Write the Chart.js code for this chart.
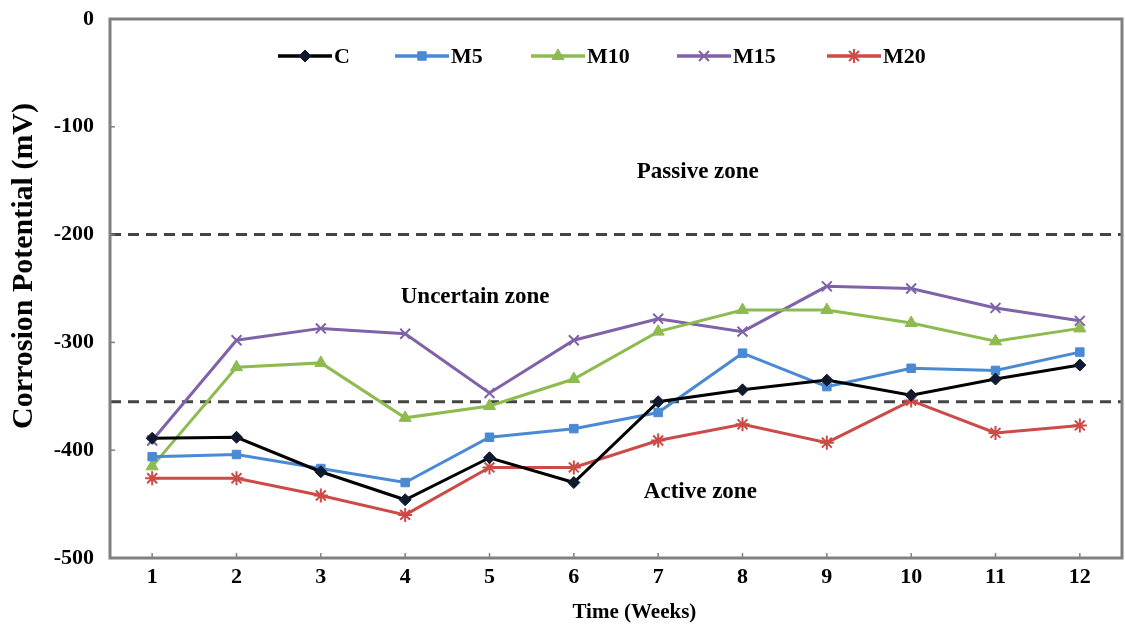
<!DOCTYPE html>
<html>
<head>
<meta charset="utf-8">
<script src="https://cdn.jsdelivr.net/npm/chart.js@4/dist/chart.umd.min.js"></script>
<style>
  html, body { margin: 0; padding: 0; background: #fff; overflow: hidden; }
  #wrap { width: 1125px; height: 632px; }
  canvas { display: block; }
</style>
</head>
<body>
<div id="wrap"><canvas id="potChart" width="1125" height="632"></canvas></div>
<script>
// weeks on x, corrosion potential (mV) per mix
const weeks = ['1', '2', '3', '4', '5', '6', '7', '8', '9', '10', '11', '12'];
const seriesNames = ['C', 'M5', 'M10', 'M15', 'M20'];
const valC   = [-389, -388, -420, -446, -407, -430, -355, -344, -335, -349, -334, -321];
const valM5  = [-406, -404, -417, -430, -388, -380, -365, -310, -341, -324, -326, -309];
const valM10 = [-415, -323, -319, -370, -359, -334, -290, -270, -270, -282, -299, -287];
const valM15 = [-391, -298, -287, -292, -347, -298, -278, -290, -248, -250, -268, -280];
const valM20 = [-426, -426, -442, -460, -416, -416, -391, -376, -393, -354, -384, -377];
const yTicks = [0, -100, -200, -300, -400, -500];

// zone limits and their labels
const zoneLimits = [-200, -355];
const zoneNames = ['Passive zone', 'Uncertain zone', 'Active zone'];
const zoneAt = [[6.47, -142], [3.83, -258], [6.5, -439]];

const lineColors = ['#000000', '#4a89d4', '#8dbb50', '#7f62a8', '#cc4a47'];
const markColors = ['#0f1a2e', '#4a89d4', '#8dbb50', '#7f62a8', '#cc4a47'];
const markStyles = ['rectRot', 'rect', 'triangle', 'crossRot', 'star'];
const markSizes = [6, 6, 7, 7, 7];

const serif = "'Liberation Serif', 'Times New Roman', serif";

const allVals = [valC, valM5, valM10, valM15, valM20];
const datasets = allVals.map((v, i) => ({
  label: seriesNames[i],
  data: v,
  borderColor: lineColors[i],
  backgroundColor: markColors[i],
  pointBackgroundColor: markColors[i],
  pointBorderColor: markColors[i],
  pointStyle: markStyles[i],
  pointRadius: markSizes[i],
  pointBorderWidth: (markStyles[i] == 'crossRot' || markStyles[i] == 'star') ? 2 : 1,
  borderWidth: 3,
  tension: 0,
  fill: false
}));

// frame, inward ticks, dashed limits and zone text
const zonePlugin = {
  id: 'zones',
  beforeDatasetsDraw(chart) {
    const ctx = chart.ctx, a = chart.chartArea, ys = chart.scales.y, xs = chart.scales.x;
    ctx.save();
    ctx.strokeStyle = '#444';
    ctx.lineWidth = 3;
    ctx.setLineDash([11, 7]);
    zoneLimits.forEach(v => {
      const py = ys.getPixelForValue(v);
      ctx.beginPath();
      ctx.moveTo(a.left, py);
      ctx.lineTo(a.right, py);
      ctx.stroke();
    });
    ctx.setLineDash([]);
    ctx.fillStyle = '#000';
    ctx.font = 'bold 23px ' + serif;
    ctx.textAlign = 'center';
    ctx.textBaseline = 'middle';
    zoneNames.forEach((t, i) => {
      ctx.fillText(t, xs.getPixelForValue(zoneAt[i][0]), ys.getPixelForValue(zoneAt[i][1]));
    });
    ctx.restore();
  },
  afterDraw(chart) {
    const ctx = chart.ctx, a = chart.chartArea, ys = chart.scales.y, xs = chart.scales.x;
    ctx.save();
    ctx.strokeStyle = '#808080';
    ctx.lineWidth = 1.5;
    xs.ticks.forEach((t, i) => {
      const px = xs.getPixelForTick(i);
      ctx.beginPath(); ctx.moveTo(px, a.bottom); ctx.lineTo(px, a.bottom - 5); ctx.stroke();
    });
    ys.ticks.forEach((t, i) => {
      const py = ys.getPixelForTick(i);
      ctx.beginPath(); ctx.moveTo(a.left, py); ctx.lineTo(a.left + 5, py); ctx.stroke();
    });
    ctx.lineWidth = 3;
    ctx.strokeRect(a.left, a.top, a.right - a.left, a.bottom - a.top);

    // legend: line with marker, then name
    const starts = [278, 395, 531, 677, 827];
    const ly = 56;
    ctx.font = 'bold 22px ' + serif;
    ctx.textAlign = 'left';
    ctx.textBaseline = 'middle';
    datasets.forEach((d, i) => {
      const x0 = starts[i];
      ctx.strokeStyle = d.borderColor;
      ctx.lineWidth = 3.5;
      ctx.beginPath(); ctx.moveTo(x0, ly); ctx.lineTo(x0 + 54, ly); ctx.stroke();
      ctx.fillStyle = d.pointBackgroundColor;
      ctx.strokeStyle = d.pointBorderColor;
      ctx.lineWidth = d.pointBorderWidth;
      Chart.helpers.drawPoint(ctx, { pointStyle: d.pointStyle, radius: d.pointRadius, rotation: 0, borderWidth: d.pointBorderWidth }, x0 + 27, ly);
      ctx.fillStyle = '#000';
      ctx.fillText(d.label, x0 + 56, ly + 1);
    });
    ctx.restore();
  }
};

new Chart('potChart', {
  type: 'line',
  data: { labels: weeks, datasets: datasets },
  options: {
    responsive: false,
    animation: false,
    devicePixelRatio: 1,
    layout: { autoPadding: false, padding: { top: 19, right: 3, left: 0, bottom: 0 } },
    plugins: {
      legend: { display: false },
      tooltip: { enabled: false }
    },
    scales: {
      x: {
        type: 'category',
        offset: true,
        grid: { display: false, drawTicks: false },
        border: { display: false },
        ticks: { color: '#000', padding: 6, font: { family: serif, size: 22, weight: 'bold' } },
        title: {
          display: true, text: '       Time (Weeks)', color: '#000',
          font: { family: serif, size: 21, weight: 'bold' },
          padding: { top: 0, bottom: 7 }
        },
        afterFit(s) { s.height = 74; s.paddingLeft = 0; s.paddingRight = 0; }
      },
      y: {
        min: -500, max: 0,
        grid: { display: false, drawTicks: false },
        border: { display: false },
        afterBuildTicks(s) { s.ticks = yTicks.map(v => ({ value: v })); },
        ticks: { color: '#000', padding: 16, font: { family: serif, size: 22, weight: 'bold' } },
        title: {
          display: true, text: '      Corrosion Potential (mV)', color: '#000',
          font: { family: serif, size: 30, weight: 'bold' },
          padding: { top: 6, bottom: 0 }
        },
        afterFit(s) { s.width = 110; s.paddingTop = 0; s.paddingBottom = 0; }
      }
    }
  },
  plugins: [zonePlugin]
});
</script>
</body>
</html>
